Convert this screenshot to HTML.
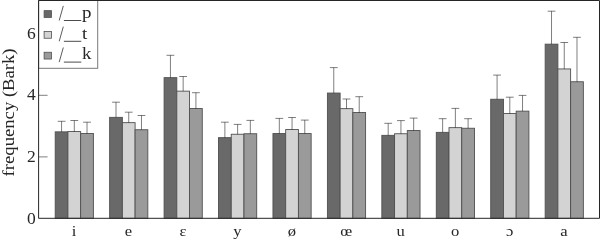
<!DOCTYPE html>
<html><head><meta charset="utf-8"><style>
html,body{margin:0;padding:0;background:#fff;}
body{width:600px;height:242px;overflow:hidden;}
svg{display:block;}
#w{will-change:transform;width:600px;height:242px;}
.t,.tk,.lg,.yl{font-family:"Liberation Serif",serif;font-size:15.5px;fill:#262626;}
.tk{font-size:17.5px;}
.lg{font-size:16.5px;}
.yl{font-size:16.5px;}
</style></head><body>
<div id="w"><svg width="600" height="242" viewBox="0 0 600 242">
<rect x="55.20" y="131.85" width="12.73" height="86.45" fill="#696969" stroke="#505050" stroke-width="0.9"/>
<rect x="67.93" y="131.55" width="12.73" height="86.75" fill="#d3d3d3" stroke="#505050" stroke-width="0.9"/>
<rect x="80.66" y="133.45" width="12.73" height="84.85" fill="#9a9a9a" stroke="#505050" stroke-width="0.9"/>
<rect x="109.64" y="117.35" width="12.73" height="100.95" fill="#696969" stroke="#505050" stroke-width="0.9"/>
<rect x="122.37" y="122.65" width="12.73" height="95.65" fill="#d3d3d3" stroke="#505050" stroke-width="0.9"/>
<rect x="135.10" y="129.75" width="12.73" height="88.55" fill="#9a9a9a" stroke="#505050" stroke-width="0.9"/>
<rect x="164.08" y="77.65" width="12.73" height="140.65" fill="#696969" stroke="#505050" stroke-width="0.9"/>
<rect x="176.81" y="91.15" width="12.73" height="127.15" fill="#d3d3d3" stroke="#505050" stroke-width="0.9"/>
<rect x="189.54" y="108.55" width="12.73" height="109.75" fill="#9a9a9a" stroke="#505050" stroke-width="0.9"/>
<rect x="218.52" y="137.65" width="12.73" height="80.65" fill="#696969" stroke="#505050" stroke-width="0.9"/>
<rect x="231.25" y="134.25" width="12.73" height="84.05" fill="#d3d3d3" stroke="#505050" stroke-width="0.9"/>
<rect x="243.98" y="133.75" width="12.73" height="84.55" fill="#9a9a9a" stroke="#505050" stroke-width="0.9"/>
<rect x="272.96" y="133.55" width="12.73" height="84.75" fill="#696969" stroke="#505050" stroke-width="0.9"/>
<rect x="285.69" y="129.55" width="12.73" height="88.75" fill="#d3d3d3" stroke="#505050" stroke-width="0.9"/>
<rect x="298.42" y="133.55" width="12.73" height="84.75" fill="#9a9a9a" stroke="#505050" stroke-width="0.9"/>
<rect x="327.40" y="93.05" width="12.73" height="125.25" fill="#696969" stroke="#505050" stroke-width="0.9"/>
<rect x="340.13" y="108.65" width="12.73" height="109.65" fill="#d3d3d3" stroke="#505050" stroke-width="0.9"/>
<rect x="352.86" y="112.55" width="12.73" height="105.75" fill="#9a9a9a" stroke="#505050" stroke-width="0.9"/>
<rect x="381.84" y="135.35" width="12.73" height="82.95" fill="#696969" stroke="#505050" stroke-width="0.9"/>
<rect x="394.57" y="133.75" width="12.73" height="84.55" fill="#d3d3d3" stroke="#505050" stroke-width="0.9"/>
<rect x="407.30" y="130.55" width="12.73" height="87.75" fill="#9a9a9a" stroke="#505050" stroke-width="0.9"/>
<rect x="436.28" y="132.35" width="12.73" height="85.95" fill="#696969" stroke="#505050" stroke-width="0.9"/>
<rect x="449.01" y="127.65" width="12.73" height="90.65" fill="#d3d3d3" stroke="#505050" stroke-width="0.9"/>
<rect x="461.74" y="128.25" width="12.73" height="90.05" fill="#9a9a9a" stroke="#505050" stroke-width="0.9"/>
<rect x="490.72" y="99.25" width="12.73" height="119.05" fill="#696969" stroke="#505050" stroke-width="0.9"/>
<rect x="503.45" y="113.55" width="12.73" height="104.75" fill="#d3d3d3" stroke="#505050" stroke-width="0.9"/>
<rect x="516.18" y="111.15" width="12.73" height="107.15" fill="#9a9a9a" stroke="#505050" stroke-width="0.9"/>
<rect x="545.16" y="44.15" width="12.73" height="174.15" fill="#696969" stroke="#505050" stroke-width="0.9"/>
<rect x="557.89" y="68.95" width="12.73" height="149.35" fill="#d3d3d3" stroke="#505050" stroke-width="0.9"/>
<rect x="570.62" y="81.75" width="12.73" height="136.55" fill="#9a9a9a" stroke="#505050" stroke-width="0.9"/>
<line x1="61.57" y1="131.85" x2="61.57" y2="121.30" stroke="#000" stroke-opacity="0.5" stroke-width="1"/>
<line x1="57.67" y1="121.30" x2="65.47" y2="121.30" stroke="#000" stroke-opacity="0.5" stroke-width="1"/>
<line x1="74.30" y1="131.55" x2="74.30" y2="120.50" stroke="#000" stroke-opacity="0.5" stroke-width="1"/>
<line x1="70.39" y1="120.50" x2="78.20" y2="120.50" stroke="#000" stroke-opacity="0.5" stroke-width="1"/>
<line x1="87.02" y1="133.45" x2="87.02" y2="122.20" stroke="#000" stroke-opacity="0.5" stroke-width="1"/>
<line x1="83.12" y1="122.20" x2="90.92" y2="122.20" stroke="#000" stroke-opacity="0.5" stroke-width="1"/>
<line x1="116.00" y1="117.35" x2="116.00" y2="102.20" stroke="#000" stroke-opacity="0.5" stroke-width="1"/>
<line x1="112.10" y1="102.20" x2="119.91" y2="102.20" stroke="#000" stroke-opacity="0.5" stroke-width="1"/>
<line x1="128.74" y1="122.65" x2="128.74" y2="112.20" stroke="#000" stroke-opacity="0.5" stroke-width="1"/>
<line x1="124.84" y1="112.20" x2="132.64" y2="112.20" stroke="#000" stroke-opacity="0.5" stroke-width="1"/>
<line x1="141.47" y1="129.75" x2="141.47" y2="115.50" stroke="#000" stroke-opacity="0.5" stroke-width="1"/>
<line x1="137.56" y1="115.50" x2="145.37" y2="115.50" stroke="#000" stroke-opacity="0.5" stroke-width="1"/>
<line x1="170.44" y1="77.65" x2="170.44" y2="55.30" stroke="#000" stroke-opacity="0.5" stroke-width="1"/>
<line x1="166.54" y1="55.30" x2="174.34" y2="55.30" stroke="#000" stroke-opacity="0.5" stroke-width="1"/>
<line x1="183.17" y1="91.15" x2="183.17" y2="76.50" stroke="#000" stroke-opacity="0.5" stroke-width="1"/>
<line x1="179.27" y1="76.50" x2="187.07" y2="76.50" stroke="#000" stroke-opacity="0.5" stroke-width="1"/>
<line x1="195.91" y1="108.55" x2="195.91" y2="92.70" stroke="#000" stroke-opacity="0.5" stroke-width="1"/>
<line x1="192.00" y1="92.70" x2="199.81" y2="92.70" stroke="#000" stroke-opacity="0.5" stroke-width="1"/>
<line x1="224.88" y1="137.65" x2="224.88" y2="122.20" stroke="#000" stroke-opacity="0.5" stroke-width="1"/>
<line x1="220.98" y1="122.20" x2="228.78" y2="122.20" stroke="#000" stroke-opacity="0.5" stroke-width="1"/>
<line x1="237.61" y1="134.25" x2="237.61" y2="124.40" stroke="#000" stroke-opacity="0.5" stroke-width="1"/>
<line x1="233.71" y1="124.40" x2="241.51" y2="124.40" stroke="#000" stroke-opacity="0.5" stroke-width="1"/>
<line x1="250.34" y1="133.75" x2="250.34" y2="120.40" stroke="#000" stroke-opacity="0.5" stroke-width="1"/>
<line x1="246.44" y1="120.40" x2="254.25" y2="120.40" stroke="#000" stroke-opacity="0.5" stroke-width="1"/>
<line x1="279.32" y1="133.55" x2="279.32" y2="118.40" stroke="#000" stroke-opacity="0.5" stroke-width="1"/>
<line x1="275.43" y1="118.40" x2="283.22" y2="118.40" stroke="#000" stroke-opacity="0.5" stroke-width="1"/>
<line x1="292.06" y1="129.55" x2="292.06" y2="117.50" stroke="#000" stroke-opacity="0.5" stroke-width="1"/>
<line x1="288.16" y1="117.50" x2="295.95" y2="117.50" stroke="#000" stroke-opacity="0.5" stroke-width="1"/>
<line x1="304.78" y1="133.55" x2="304.78" y2="120.10" stroke="#000" stroke-opacity="0.5" stroke-width="1"/>
<line x1="300.88" y1="120.10" x2="308.68" y2="120.10" stroke="#000" stroke-opacity="0.5" stroke-width="1"/>
<line x1="333.76" y1="93.05" x2="333.76" y2="67.60" stroke="#000" stroke-opacity="0.5" stroke-width="1"/>
<line x1="329.87" y1="67.60" x2="337.66" y2="67.60" stroke="#000" stroke-opacity="0.5" stroke-width="1"/>
<line x1="346.50" y1="108.65" x2="346.50" y2="99.00" stroke="#000" stroke-opacity="0.5" stroke-width="1"/>
<line x1="342.60" y1="99.00" x2="350.39" y2="99.00" stroke="#000" stroke-opacity="0.5" stroke-width="1"/>
<line x1="359.22" y1="112.55" x2="359.22" y2="96.70" stroke="#000" stroke-opacity="0.5" stroke-width="1"/>
<line x1="355.32" y1="96.70" x2="363.12" y2="96.70" stroke="#000" stroke-opacity="0.5" stroke-width="1"/>
<line x1="388.20" y1="135.35" x2="388.20" y2="123.30" stroke="#000" stroke-opacity="0.5" stroke-width="1"/>
<line x1="384.31" y1="123.30" x2="392.10" y2="123.30" stroke="#000" stroke-opacity="0.5" stroke-width="1"/>
<line x1="400.94" y1="133.75" x2="400.94" y2="120.60" stroke="#000" stroke-opacity="0.5" stroke-width="1"/>
<line x1="397.04" y1="120.60" x2="404.83" y2="120.60" stroke="#000" stroke-opacity="0.5" stroke-width="1"/>
<line x1="413.66" y1="130.55" x2="413.66" y2="118.10" stroke="#000" stroke-opacity="0.5" stroke-width="1"/>
<line x1="409.76" y1="118.10" x2="417.56" y2="118.10" stroke="#000" stroke-opacity="0.5" stroke-width="1"/>
<line x1="442.64" y1="132.35" x2="442.64" y2="118.70" stroke="#000" stroke-opacity="0.5" stroke-width="1"/>
<line x1="438.75" y1="118.70" x2="446.54" y2="118.70" stroke="#000" stroke-opacity="0.5" stroke-width="1"/>
<line x1="455.38" y1="127.65" x2="455.38" y2="108.40" stroke="#000" stroke-opacity="0.5" stroke-width="1"/>
<line x1="451.48" y1="108.40" x2="459.27" y2="108.40" stroke="#000" stroke-opacity="0.5" stroke-width="1"/>
<line x1="468.10" y1="128.25" x2="468.10" y2="118.70" stroke="#000" stroke-opacity="0.5" stroke-width="1"/>
<line x1="464.20" y1="118.70" x2="472.00" y2="118.70" stroke="#000" stroke-opacity="0.5" stroke-width="1"/>
<line x1="497.08" y1="99.25" x2="497.08" y2="75.10" stroke="#000" stroke-opacity="0.5" stroke-width="1"/>
<line x1="493.19" y1="75.10" x2="500.98" y2="75.10" stroke="#000" stroke-opacity="0.5" stroke-width="1"/>
<line x1="509.81" y1="113.55" x2="509.81" y2="97.20" stroke="#000" stroke-opacity="0.5" stroke-width="1"/>
<line x1="505.92" y1="97.20" x2="513.72" y2="97.20" stroke="#000" stroke-opacity="0.5" stroke-width="1"/>
<line x1="522.54" y1="111.15" x2="522.54" y2="95.40" stroke="#000" stroke-opacity="0.5" stroke-width="1"/>
<line x1="518.64" y1="95.40" x2="526.44" y2="95.40" stroke="#000" stroke-opacity="0.5" stroke-width="1"/>
<line x1="551.52" y1="44.15" x2="551.52" y2="11.20" stroke="#000" stroke-opacity="0.5" stroke-width="1"/>
<line x1="547.62" y1="11.20" x2="555.42" y2="11.20" stroke="#000" stroke-opacity="0.5" stroke-width="1"/>
<line x1="564.25" y1="68.95" x2="564.25" y2="42.50" stroke="#000" stroke-opacity="0.5" stroke-width="1"/>
<line x1="560.36" y1="42.50" x2="568.15" y2="42.50" stroke="#000" stroke-opacity="0.5" stroke-width="1"/>
<line x1="576.99" y1="81.75" x2="576.99" y2="37.30" stroke="#000" stroke-opacity="0.5" stroke-width="1"/>
<line x1="573.09" y1="37.30" x2="580.88" y2="37.30" stroke="#000" stroke-opacity="0.5" stroke-width="1"/>
<line x1="38.60" y1="156.90" x2="47.60" y2="156.90" stroke="#808080" stroke-width="1"/>
<line x1="38.60" y1="95.30" x2="47.60" y2="95.30" stroke="#808080" stroke-width="1"/>
<line x1="38.60" y1="33.70" x2="47.60" y2="33.70" stroke="#808080" stroke-width="1"/>
<text x="35.8" y="223.60" text-anchor="end" class="tk">0</text>
<text x="35.8" y="162.00" text-anchor="end" class="tk">2</text>
<text x="35.8" y="100.40" text-anchor="end" class="tk">4</text>
<text x="35.8" y="38.80" text-anchor="end" class="tk">6</text>
<text transform="translate(74.09,235.7) scale(1.07,1)" text-anchor="middle" class="t">i</text>
<text transform="translate(128.54,235.7) scale(1.07,1)" text-anchor="middle" class="t">e</text>
<text transform="translate(182.97,235.7) scale(1.07,1)" text-anchor="middle" class="t">ɛ</text>
<text transform="translate(237.41,235.7) scale(1.07,1)" text-anchor="middle" class="t">y</text>
<text transform="translate(291.85,235.7) scale(1.07,1)" text-anchor="middle" class="t">ø</text>
<text transform="translate(346.30,235.7) scale(1.07,1)" text-anchor="middle" class="t">œ</text>
<text transform="translate(400.73,235.7) scale(1.07,1)" text-anchor="middle" class="t">u</text>
<text transform="translate(455.18,235.7) scale(1.07,1)" text-anchor="middle" class="t">o</text>
<text transform="translate(509.61,235.7) scale(1.07,1)" text-anchor="middle" class="t">ɔ</text>
<text transform="translate(564.05,235.7) scale(1.07,1)" text-anchor="middle" class="t">a</text>
<rect x="38.60" y="0.5" width="59.10" height="67.80" fill="#fff" stroke="#7a7a7a" stroke-width="1"/>
<rect x="44.1" y="10.65" width="7.4" height="6.8" fill="#696969" stroke="#505050" stroke-width="0.8"/>
<line x1="63.3" y1="5.90" x2="59.2" y2="20.50" stroke="#333" stroke-width="0.8"/>
<line x1="63.9" y1="20.50" x2="81.3" y2="20.50" stroke="#2a2a2a" stroke-width="0.85"/>
<text transform="translate(82.0,17.50) scale(1.15,1)" class="lg">p</text>
<rect x="44.1" y="31.45" width="7.4" height="6.8" fill="#d3d3d3" stroke="#505050" stroke-width="0.8"/>
<line x1="63.3" y1="26.70" x2="59.2" y2="41.30" stroke="#333" stroke-width="0.8"/>
<line x1="63.9" y1="41.30" x2="81.3" y2="41.30" stroke="#2a2a2a" stroke-width="0.85"/>
<text transform="translate(82.0,38.90) scale(1.15,1)" class="lg">t</text>
<rect x="44.1" y="52.25" width="7.4" height="6.8" fill="#9a9a9a" stroke="#505050" stroke-width="0.8"/>
<line x1="63.3" y1="47.50" x2="59.2" y2="62.10" stroke="#333" stroke-width="0.8"/>
<line x1="63.9" y1="62.10" x2="81.3" y2="62.10" stroke="#2a2a2a" stroke-width="0.85"/>
<text transform="translate(82.0,59.40) scale(1.15,1)" class="lg">k</text>
<path d="M38.60,0.5 H599.5 V218.30 H38.60 Z" fill="none" stroke="#262626" stroke-width="1"/>
<text transform="translate(13.6,112.4) rotate(-90)" text-anchor="middle" class="yl" textLength="128" lengthAdjust="spacingAndGlyphs">frequency (Bark)</text>
</svg></div>
</body></html>
